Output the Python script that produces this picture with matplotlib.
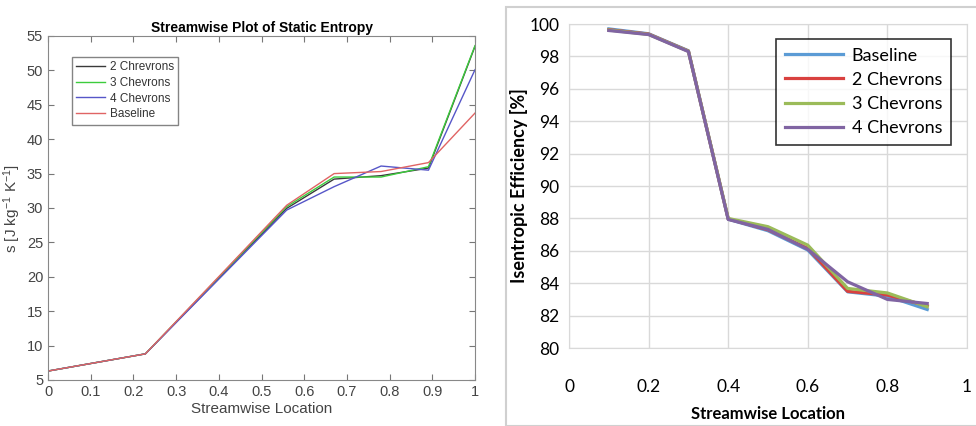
import numpy as np
import matplotlib.pyplot as plt
from matplotlib.patches import Rectangle

plt.rcParams['font.family'] = ['Liberation Sans', 'DejaVu Sans']
plt.rcParams['mathtext.fontset'] = 'custom'
plt.rcParams['mathtext.rm'] = 'Liberation Sans'
plt.rcParams['mathtext.default'] = 'regular'

# venstre panel - entropi
x_s = [0, 0.228, 0.559, 0.67, 0.78, 0.891, 1.0]
s_2chev = [6.3, 8.8, 29.95, 34.2, 34.7, 35.8, 53.5]
s_3chev = [6.3, 8.8, 30.2, 34.5, 34.5, 36.0, 53.6]
s_4chev = [6.3, 8.8, 29.7, 33.1, 36.1, 35.5, 50.1]
s_base = [6.3, 8.8, 30.4, 35.0, 35.3, 36.6, 43.8]

# hoyre panel - isentropisk virkningsgrad
x_eta = [0.1, 0.2, 0.3, 0.4, 0.5, 0.6, 0.7, 0.8, 0.9]
eta_base = [99.7, 99.4, 98.35, 87.95, 87.24, 86.05, 83.47, 83.2, 82.38]
eta_2chev = [99.65, 99.38, 98.33, 87.97, 87.3, 86.15, 83.5, 83.27, 82.6]
eta_3chev = [99.63, 99.36, 98.32, 88.0, 87.49, 86.35, 83.68, 83.4, 82.55]
eta_4chev = [99.6, 99.35, 98.3, 87.94, 87.32, 86.09, 84.09, 83.0, 82.75]

fig = plt.figure(figsize=(9.76, 4.26), dpi=100)

# ---- venstre ----
ax = fig.add_axes([0.0492, 0.108, 0.4375, 0.8075])
ax.plot(x_s, s_2chev, color='#3a3a3a', lw=1.0, label='2 Chrevrons')
ax.plot(x_s, s_3chev, color='#3ccc3c', lw=1.0, label='3 Chevrons')
ax.plot(x_s, s_4chev, color='#5656c8', lw=1.0, label='4 Chevrons')
ax.plot(x_s, s_base, color='#e06464', lw=1.0, label='Baseline')
ax.set_xlim(0, 1)
ax.set_ylim(5, 55)
ax.set_xticks(np.arange(0, 1.01, 0.1))
ax.set_xticklabels(['0', '0.1', '0.2', '0.3', '0.4', '0.5', '0.6', '0.7', '0.8', '0.9', '1'])
ax.set_yticks(np.arange(5, 56, 5))
ax.tick_params(direction='in', top=True, right=True, length=4, color='#777777',
               labelcolor='#444444', labelsize=10.5)
for sp in ax.spines.values():
    sp.set_color('#888888')
ax.set_title('Streamwise Plot of Static Entropy', fontsize=10, fontweight='bold', pad=3)
ax.set_xlabel('Streamwise Location', fontsize=11, color='#444444', labelpad=2)
ax.set_ylabel('s [J kg$^{-1}$ K$^{-1}$]', fontsize=11, color='#444444', labelpad=3)
leg = ax.legend(loc='upper left', bbox_to_anchor=(0.057, 0.94), fontsize=8.5, frameon=True,
                fancybox=False, edgecolor='#666666', handlelength=2.45, borderpad=0.35,
                labelspacing=0.33, handletextpad=0.4, borderaxespad=0)
for t in leg.get_texts():
    t.set_color('#333333')

# ---- hoyre ----
fig.patches.append(Rectangle((506/976, 0), 1, 1-7/426, transform=fig.transFigure,
                             fill=False, edgecolor='#d0d0d0', lw=1.5))
ax2 = fig.add_axes([0.583, 0.183, 0.4078, 0.7606])
ax2.plot(x_eta, eta_base, color='#5B9BD5', lw=2.3, label='Baseline')
ax2.plot(x_eta, eta_2chev, color='#D9413F', lw=2.3, label='2 Chevrons')
ax2.plot(x_eta, eta_3chev, color='#9BBB59', lw=2.3, label='3 Chevrons')
ax2.plot(x_eta, eta_4chev, color='#8064A2', lw=2.3, label='4 Chevrons')
ax2.set_xlim(0, 1)
ax2.set_ylim(80, 100)
ax2.set_xticks([0, 0.2, 0.4, 0.6, 0.8, 1])
ax2.set_xticklabels(['0', '0.2', '0.4', '0.6', '0.8', '1'])
ax2.set_yticks(np.arange(80, 101, 2))
ax2.grid(True, color='#d9d9d9', lw=1)
ax2.set_axisbelow(True)
for sp in ax2.spines.values():
    sp.set_color('#d9d9d9')
ax2.tick_params(length=0, labelsize=12.5, pad=7)
ax2.tick_params(axis='x', pad=22)
for lab in ax2.get_xticklabels() + ax2.get_yticklabels():
    lab.set_family('Lato')
ax2.set_xlabel('Streamwise Location', fontsize=12, fontweight='bold', labelpad=8,
               family='Lato')
ax2.set_ylabel('Isentropic Efficiency [%]', fontsize=13, fontweight='bold', labelpad=1,
               family='Lato')
leg2 = ax2.legend(loc='upper right', bbox_to_anchor=(0.96, 0.955),
                  frameon=True, fancybox=False, edgecolor='black', handlelength=3.2,
                  borderpad=0.5, labelspacing=0.45, handletextpad=0.5, borderaxespad=0,
                  prop={'family': 'Lato', 'size': 13})
leg2.get_frame().set_linewidth(1.2)

fig.savefig('out.png', dpi=100)
